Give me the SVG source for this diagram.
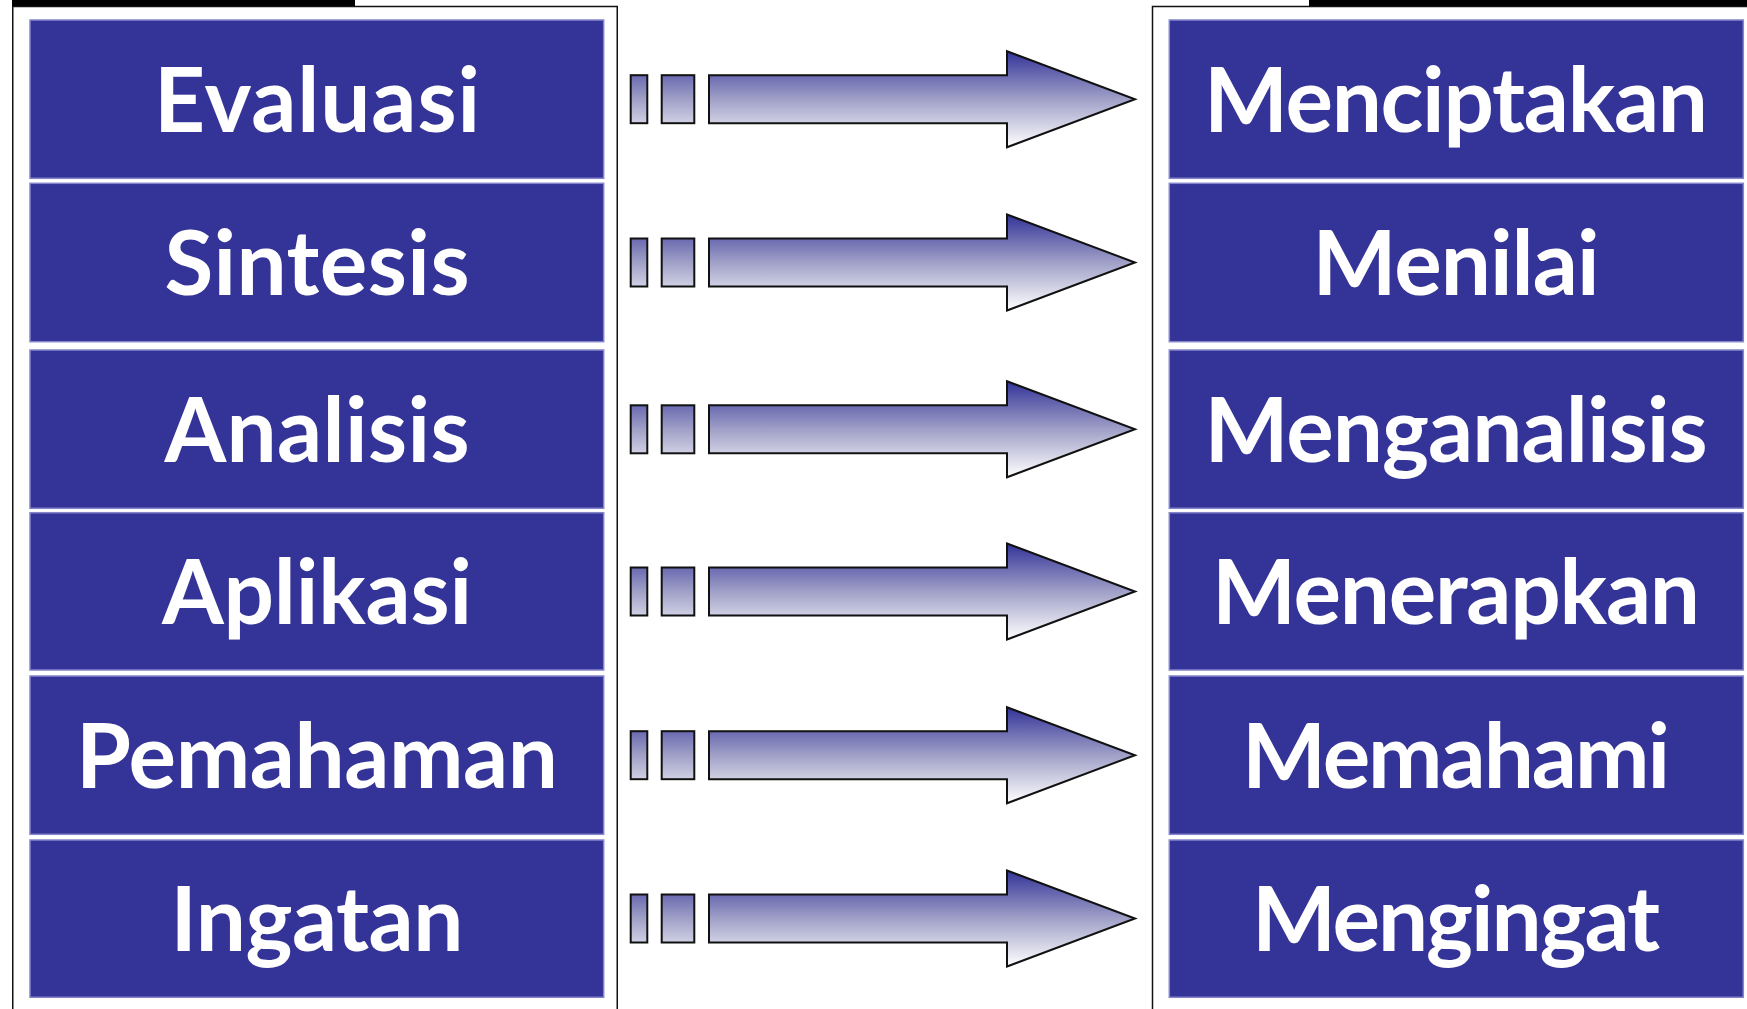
<svg xmlns="http://www.w3.org/2000/svg" width="1747" height="1009" viewBox="0 0 1747 1009">
  <style>
    .box { fill: #343498; stroke: #8585cc; stroke-width: 1.5; }
    .lbl { fill: #ffffff; font-family: Lato, "Open Sans", sans-serif; font-weight: 700; font-size: 89px; text-anchor: middle; }
    .arr { fill: url(#ag); stroke: #111111; stroke-width: 2; stroke-linejoin: miter; }
    .frame { fill: none; stroke: #111111; stroke-width: 1.5; }
  </style>
  <defs>
    <linearGradient id="ag" gradientUnits="userSpaceOnUse" x1="0" y1="-48" x2="0" y2="48">
      <stop offset="0" stop-color="#333399"/>
      <stop offset="0.5" stop-color="#a0a0c8"/>
      <stop offset="1" stop-color="#ffffff"/>
    </linearGradient>
    <g id="arrow">
      <rect class="arr" x="630.7" y="-24" width="16.6" height="48"/>
      <rect class="arr" x="661.7" y="-24" width="32.6" height="48"/>
      <path class="arr" d="M709,-24 H1007 V-48 L1135,0 L1007,48 V24 H709 Z"/>
    </g>
  </defs>
  <rect x="0" y="0" width="1747" height="1009" fill="#ffffff"/>

  <g id="frames">
    <rect x="12" y="0" width="343" height="7" fill="#000000"/>
    <rect class="frame" x="12.75" y="6.5" width="604.5" height="1020"/>
    <rect x="1309" y="0" width="438" height="7" fill="#000000"/>
    <rect class="frame" x="1152.5" y="6.5" width="620" height="1020"/>
  </g>

  <g id="left-evaluasi"><rect class="box" x="30" y="20" width="573.7" height="158.3"/><text class="lbl" x="317" y="131.7" textLength="326" lengthAdjust="spacing">Evaluasi</text></g>
  <g id="left-sintesis"><rect class="box" x="30" y="183.3" width="573.7" height="158.4"/><text class="lbl" x="317" y="295" textLength="305" lengthAdjust="spacing">Sintesis</text></g>
  <g id="left-analisis"><rect class="box" x="30" y="350" width="573.7" height="158.3"/><text class="lbl" x="317" y="461.7" textLength="305" lengthAdjust="spacing">Analisis</text></g>
  <g id="left-aplikasi"><rect class="box" x="30" y="512.7" width="573.7" height="157.3"/><text class="lbl" x="317" y="623.8" textLength="310" lengthAdjust="spacing">Aplikasi</text></g>
  <g id="left-pemahaman"><rect class="box" x="30" y="676" width="573.7" height="158.3"/><text class="lbl" x="317" y="787.7" textLength="482" lengthAdjust="spacing">Pemahaman</text></g>
  <g id="left-ingatan"><rect class="box" x="30" y="840" width="573.7" height="157.3"/><text class="lbl" x="317" y="951.2" textLength="293" lengthAdjust="spacing">Ingatan</text></g>

  <g id="right-menciptakan"><rect class="box" x="1169.3" y="20" width="574" height="158.3"/><text class="lbl" x="1456" y="131.7" textLength="504" lengthAdjust="spacing">Menciptakan</text></g>
  <g id="right-menilai"><rect class="box" x="1169.3" y="183.3" width="574" height="158.4"/><text class="lbl" x="1456" y="295" textLength="287" lengthAdjust="spacing">Menilai</text></g>
  <g id="right-menganalisis"><rect class="box" x="1169.3" y="350" width="574" height="158.3"/><text class="lbl" x="1456" y="461.7" textLength="503" lengthAdjust="spacing">Menganalisis</text></g>
  <g id="right-menerapkan"><rect class="box" x="1169.3" y="512.7" width="574" height="157.3"/><text class="lbl" x="1456" y="623.8" textLength="488" lengthAdjust="spacing">Menerapkan</text></g>
  <g id="right-memahami"><rect class="box" x="1169.3" y="676" width="574" height="158.3"/><text class="lbl" x="1456" y="787.7" textLength="428" lengthAdjust="spacing">Memahami</text></g>
  <g id="right-mengingat"><rect class="box" x="1169.3" y="840" width="574" height="157.3"/><text class="lbl" x="1456" y="951.2" textLength="408" lengthAdjust="spacing">Mengingat</text></g>

  <g id="connectors">
    <use href="#arrow" transform="translate(0,99.2)"/>
    <use href="#arrow" transform="translate(0,262.5)"/>
    <use href="#arrow" transform="translate(0,429.3)"/>
    <use href="#arrow" transform="translate(0,591.5)"/>
    <use href="#arrow" transform="translate(0,755.2)"/>
    <use href="#arrow" transform="translate(0,918.5)"/>
  </g>
</svg>
